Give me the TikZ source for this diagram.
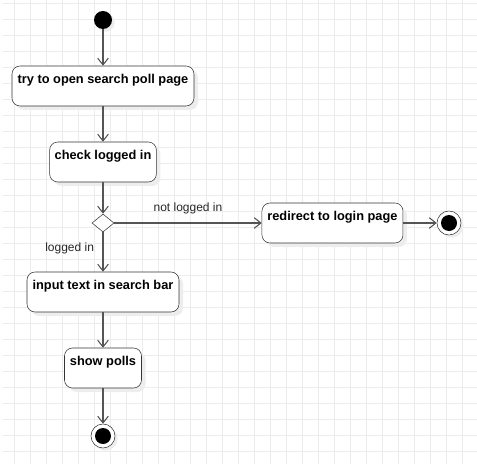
\documentclass[tikz,border=0pt]{standalone}
\usepackage{fontspec}
\setmainfont{Liberation Sans}
\usepackage{xcolor}
\usetikzlibrary{positioning}
\usetikzlibrary{shapes.geometric}
\usetikzlibrary{shadows}
\usetikzlibrary{arrows.meta}

\definecolor{edgegray}{HTML}{555555}
\definecolor{boxgray}{HTML}{333333}
\definecolor{gridgray}{HTML}{ECECEC}

\tikzset{
  activity/.style={draw=boxgray, rounded corners=6pt, fill=white, minimum height=30pt,
    inner sep=3.5pt, text height=9.5pt, text depth=13.5pt, font=\bfseries\fontsize{9.6}{11}\selectfont,
    drop shadow={shadow xshift=3pt, shadow yshift=-3pt, fill=black!7, opacity=1}},
  decision/.style={draw=boxgray, diamond, fill=white, minimum width=16.5pt, minimum height=13.5pt, inner sep=0pt, aspect=1.2},
  initial/.style={circle, fill=black, minimum size=13.5pt, inner sep=0pt,
    drop shadow={shadow xshift=2pt, shadow yshift=-2pt, fill=black!7, opacity=1}},
  final/.style={circle, draw=boxgray, fill=white, minimum size=18pt, inner sep=0pt,
    path picture={\fill[black] (path picture bounding box.center) circle (6pt);},
    drop shadow={shadow xshift=2pt, shadow yshift=-2pt, fill=black!7, opacity=1}},
  flow/.style={draw=edgegray, thick, -{Straight Barb[length=5pt, width=8pt]}},
  guard/.style={font=\fontsize{9}{10}\selectfont, text=black!85}
}

\begin{document}
\begin{tikzpicture}[x=0.75pt, y=-0.75pt]
\useasboundingbox (0,0) rectangle (477,463);
\begin{scope}
\clip (0,0) rectangle (477,463);
\draw [gridgray, line width=0.5pt, xshift=10.875pt, yshift=-2.25pt, step=12pt] (-12,-12) grid (480,470);
\end{scope}

\node (start) [initial] at (103,20) {};
\node (open search page) [activity, minimum width=136.5pt, below of=start, node distance=49.5pt] {try to open search poll page};
\node (check logged in) [activity, minimum width=80pt, below of=open search page, node distance=57pt] {check logged in};
\node (login branch) [decision, below of=check logged in, node distance=45.75pt] {};
\node (redirect) [activity, minimum width=105.75pt, right of=login branch, node distance=172.1pt] {redirect to login page};
\node (end redirect) [final, right of=redirect, node distance=87.4pt] {};
\node (input text) [activity, minimum width=114pt, below of=login branch, node distance=51.75pt] {input text in search bar};
\node (show polls) [activity, minimum width=57.75pt, below of=input text, node distance=57pt] {show polls};
\node (end search) [final, below of=show polls, node distance=51pt] {};

\draw [flow] (start.south) -- (open search page.north);
\draw [flow] (open search page.south) -- (check logged in.north);
\draw [flow] (check logged in.south) -- (login branch.north);
\draw [flow] (login branch.east) -- coordinate[pos=0.5] (not mid) (redirect.west);
\draw [flow] (redirect.east) -- (end redirect.west);
\draw [flow] (login branch.south) -- coordinate[pos=0.4] (logged mid) (input text.north);
\draw [flow] (input text.south) -- (show polls.north);
\draw [flow] (show polls.south) -- (end search.north);

\node (not logged label) [guard, above of=not mid, node distance=11pt] {not logged in};
\node (logged label) [guard, left of=logged mid, node distance=25pt] {logged in};

\end{tikzpicture}
\end{document}
